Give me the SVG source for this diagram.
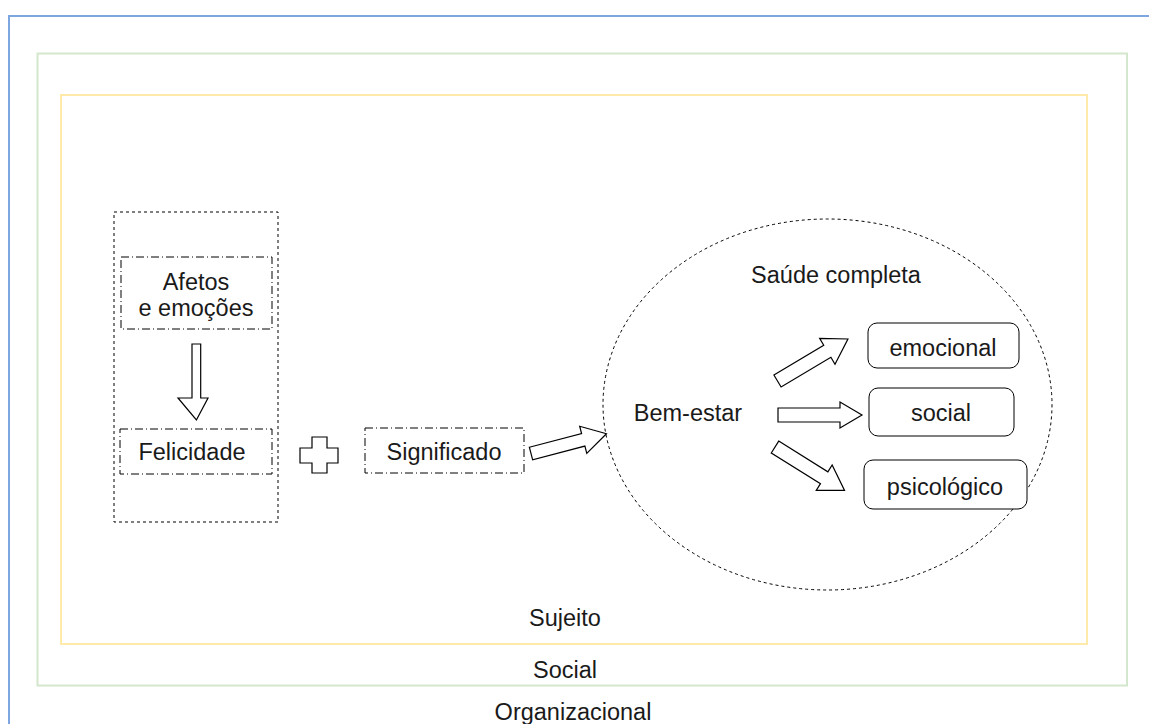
<svg xmlns="http://www.w3.org/2000/svg" width="1149" height="724" viewBox="0 0 1149 724">
<style>
text{font-family:"Liberation Sans",Arial,sans-serif;font-size:23.5px;fill:#1a1a1a;text-anchor:middle}
.frame{fill:none;stroke-width:2}
.dash{fill:none;stroke:#000;stroke-width:1;stroke-dasharray:3 3}
.dashdot{fill:none;stroke:#000;stroke-width:1;stroke-dasharray:8 3 1 3}
.round{fill:#fff;stroke:#000;stroke-width:1}
.blk{fill:#fff;stroke:#000;stroke-width:1.2;stroke-linejoin:miter}
</style>
<rect width="1149" height="724" fill="#fff"/>
<g id="organizacional">
<rect class="frame" x="9" y="16" width="1200" height="800" stroke="#7EA6E0"/>
<text x="573" y="720">Organizacional</text>
</g>
<g id="social-frame">
<rect class="frame" x="37.5" y="53.5" width="1089.5" height="632" stroke="#D3E7CC"/>
<text x="565" y="678">Social</text>
</g>
<g id="sujeito">
<rect class="frame" x="61" y="95" width="1026" height="549" stroke="#FFEAAA"/>
<text x="565" y="626">Sujeito</text>
</g>
<g id="grupo-esquerda">
<rect class="dash" x="114" y="212" width="164" height="310"/>
</g>
<g id="afetos">
<rect class="dashdot" x="121" y="257" width="151" height="72"/>
<text x="196" y="290">Afetos</text>
<text x="196" y="316">e emoções</text>
</g>
<g id="felicidade">
<rect class="dashdot" x="120" y="429" width="152" height="45"/>
<text x="192" y="460">Felicidade</text>
</g>
<g id="mais">
<path class="blk" d="M312,437 H327 V448 H338 V463 H327 V473 H312 V463 H300 V448 H312 Z"/>
</g>
<g id="significado">
<rect class="dashdot" x="365" y="428" width="159" height="45"/>
<text x="444" y="460">Significado</text>
</g>
<g id="saude">
<ellipse class="dash" cx="827.5" cy="404.5" rx="224.5" ry="185.5"/>
<text x="836" y="283">Saúde completa</text>
</g>
<g id="bem-estar">
<text x="688" y="421">Bem-estar</text>
</g>
<g id="emocional">
<rect class="round" x="868" y="323" width="151" height="45" rx="9"/>
<text x="943" y="356">emocional</text>
</g>
<g id="social">
<rect class="round" x="869" y="388" width="145" height="48" rx="9"/>
<text x="941" y="421">social</text>
</g>
<g id="psicologico">
<rect class="round" x="864" y="460" width="163" height="49" rx="9"/>
<text x="945" y="495">psicológico</text>
</g>
<g id="connectors">
<path class="blk" d="M192,344 H200.7 V398 H208 L196.4,420 L178,398 H192 Z"/>
<path class="blk" d="M0,-6.5 H54 V-14 L78,0 L54,14 V6.5 H0 Z" transform="translate(531,453.5) rotate(-14.7)"/>
<path class="blk" d="M0,-7 H58 V-15 L82,0 L58,15 V7 H0 Z" transform="translate(777.5,381) rotate(-30.8)"/>
<path class="blk" d="M0,-7 H62 V-13 L84,0 L62,13 V7 H0 Z" transform="translate(778,415)"/>
<path class="blk" d="M0,-7 H58 V-15 L82,0 L58,15 V7 H0 Z" transform="translate(775,447) rotate(32)"/>
</g>
</svg>
